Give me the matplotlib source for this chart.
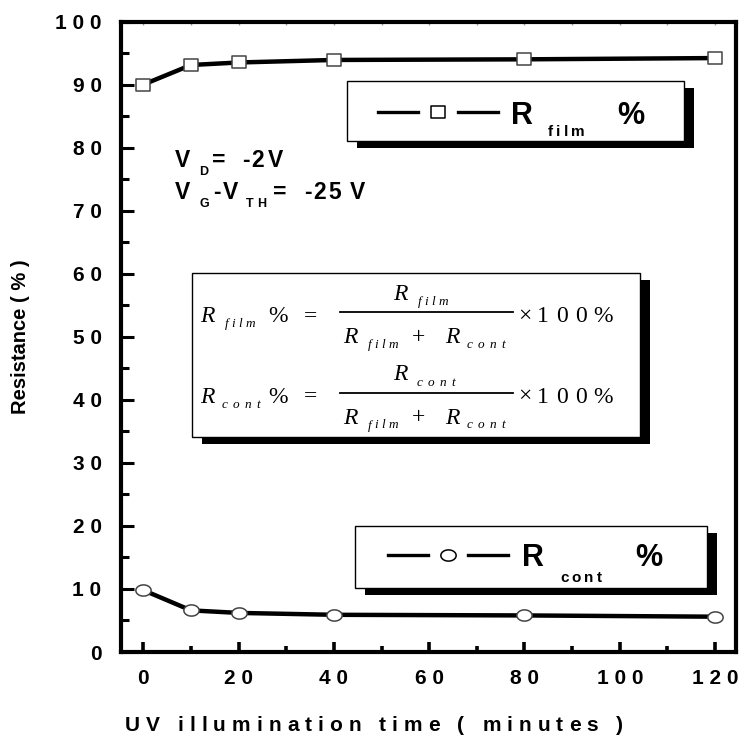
import numpy as np
import matplotlib
matplotlib.use("Agg")
import matplotlib.pyplot as plt
from matplotlib.patches import Rectangle
from matplotlib.lines import Line2D
from matplotlib.path import Path
from matplotlib import font_manager as fm
from matplotlib.ft2font import FT2Font

plt.rcParams["font.family"] = ["Liberation Sans", "DejaVu Sans"]

# ---- data -------------------------------------------------------------
uv_time = [0, 10, 20, 40, 80, 120]
r_film_pct = [90.0, 93.1, 93.5, 93.9, 94.0, 94.2]
r_cont_pct = [9.8, 6.6, 6.2, 5.9, 5.8, 5.6]

x_ticks = [0, 20, 40, 60, 80, 100, 120]
x_tick_labels = ["0", "2 0", "4 0", "6 0", "8 0", "1 0 0", "1 2 0"]
y_ticks = [0, 10, 20, 30, 40, 50, 60, 70, 80, 90, 100]
y_tick_labels = ["0", "1 0", "2 0", "3 0", "4 0", "5 0", "6 0", "7 0", "8 0", "9 0", "1 0 0"]

W, H = 739, 742
fig = plt.figure(figsize=(W / 100, H / 100), dpi=100)


def fx(x):
    return x / W


def fy(y):
    return 1 - y / H


AX_L, AX_R, AX_T, AX_B = 121, 736, 21.5, 652
ax = fig.add_axes([fx(AX_L), fy(AX_B), (AX_R - AX_L) / W, (AX_B - AX_T) / H])

# markers: slightly wide open squares and flat ellipses
sq = Path([(-7, -5.5), (7, -5.5), (7, 5.5), (-7, 5.5), (-7, -5.5)], closed=True)
t = np.linspace(0, 2 * np.pi, 60)
ell = Path(np.column_stack([7.5 * np.cos(t), 5.5 * np.sin(t)]), closed=True)

ax.plot(uv_time, r_film_pct, color="black", lw=3.2, marker=sq, ms=10.5,
        mfc="white", mec="#444444", mew=1.1, zorder=3)
ax.plot(uv_time, r_cont_pct, color="black", lw=3.2, marker=ell, ms=11,
        mfc="white", mec="#444444", mew=1.1, zorder=3)

ax.set_xlim(-4.7, 124.4)
ax.set_ylim(0, 100)
ax.set_xticks(x_ticks)
ax.set_xticklabels(x_tick_labels)
ax.set_xticks(np.arange(10, 120, 20), minor=True)
ax.set_yticks(y_ticks)
ax.set_yticklabels(y_tick_labels)
ax.set_yticks(np.arange(5, 100, 10), minor=True)

for s in ax.spines.values():
    s.set_linewidth(3)
ax.tick_params(axis="x", which="major", direction="in", length=7, width=2.6,
               pad=12, labelsize=15)
ax.tick_params(axis="x", which="minor", direction="in", length=4, width=2.6)
ax.tick_params(axis="y", which="major", direction="in", length=9, width=2.2,
               pad=14, labelsize=15)
ax.tick_params(axis="y", which="minor", direction="in", length=6, width=2.2)
for lab in ax.get_xticklabels() + ax.get_yticklabels():
    lab.set_fontweight("bold")

top = ax.secondary_xaxis("top")
top.set_xticks(np.arange(0, 130, 10))
top.tick_params(direction="in", length=3, width=1, color="0.6", labeltop=False)
top.spines["top"].set_visible(False)

ax.set_ylabel("Resistance ( % )", fontsize=14.5, fontweight="bold")
ax.yaxis.set_label_coords((30 - AX_L) / (AX_R - AX_L), (AX_B - 337) / (AX_B - AX_T))


# text placed glyph by glyph with extra letter spacing (pixel coordinates)
def put(x, y, s, size, track=0.0, family="Liberation Sans", weight="bold",
        style="normal", ha="left", z=8):
    fp = fm.FontProperties(family=family, weight=weight, style=style, size=size)
    font = FT2Font(fm.findfont(fp))
    font.set_size(size, 100)
    adv = [font.load_char(ord(ch)).linearHoriAdvance / 65536 for ch in s]
    total = sum(adv) + track * (len(s) - 1)
    if ha == "center":
        x = x - total / 2
    for ch, a in zip(s, adv):
        if ch != " ":
            fig.text(fx(x), fy(y), ch, fontproperties=fp, ha="left",
                     va="baseline", zorder=z)
        x += a + track


put(374, 731, "UV illumination time ( minutes )", 15, 6.0, ha="center")


def shadow_box(x0, y0, x1, y1, dx=10, dy=7):
    fig.add_artist(Rectangle((fx(x0 + dx), fy(y1 + dy)), (x1 - x0) / W, (y1 - y0) / H,
                             transform=fig.transFigure, facecolor="black",
                             edgecolor="none", zorder=4))
    fig.add_artist(Rectangle((fx(x0), fy(y1)), (x1 - x0) / W, (y1 - y0) / H,
                             transform=fig.transFigure, facecolor="white",
                             edgecolor="black", lw=1, zorder=5))


def legend_entry(xl, yl, marker, ms, sub, xr, xsub, xpct, base, subbase):
    for a, b in [(xl, xl + 40), (xl + 80, xl + 120)]:
        fig.add_artist(Line2D([fx(a), fx(b)], [fy(yl), fy(yl)], color="black", lw=2.4,
                              transform=fig.transFigure, zorder=6))
    fig.add_artist(Line2D([fx(xl + 60)], [fy(yl)], marker=marker, ms=ms, mfc="white",
                          mec="black", mew=1.1, ls="none",
                          transform=fig.transFigure, zorder=6))
    put(xr, base, "R", 22)
    put(xsub, subbase, sub, 11, 3.2)
    put(xpct, base, "%", 22)


shadow_box(347, 81, 684, 141)
legend_entry(378, 112, sq, 10.5, "film", 511, 548, 617, 123.5, 136.5)

shadow_box(355, 526, 707, 588)
legend_entry(388, 555, ell, 11, "cont", 522, 560, 635, 566.5, 581.5)

# bias conditions
put(175, 167, "V", 16.5)
put(199, 175, "D", 9)
put(212, 167, "=", 16.5)
put(242, 167, "-2", 16.5, 2)
put(268, 167, "V", 16.5)

put(175, 199, "V", 16.5)
put(199, 207, "G", 9)
put(213, 199, "-", 16.5)
put(223, 199, "V", 16.5)
put(246, 207, "TH", 9, 3)
put(273, 199, "=", 16.5)
put(304, 199, "-25", 16.5, 2)
put(350, 199, "V", 16.5)

# definition box
shadow_box(192, 273, 640, 437)

SERIF = "Liberation Serif"
FS = 17


def r_sub(x, base, word, track, gap=25, subsize=9.5, drop=5):
    put(x, base, "R", FS, family=SERIF, weight="normal", style="italic")
    put(x + gap, base + drop, word, subsize, track, family=SERIF,
        weight="normal", style="italic")


TRACK = {"film": 3.0, "cont": 5.0}


def definition(dy, word):
    # left-hand side
    r_sub(200, 322 + dy, word, TRACK[word], gap=25 if word == "film" else 22)
    put(268, 322 + dy, "%", FS, family=SERIF, weight="normal")
    put(304, 322 + dy, "=", FS, family=SERIF, weight="normal")
    # fraction
    r_sub(393, 300 + dy, word, TRACK[word], gap=25 if word == "film" else 24)
    fig.add_artist(Line2D([fx(340), fx(513)], [fy(312 + dy), fy(312 + dy)],
                          color="black", lw=1.3, transform=fig.transFigure, zorder=7))
    r_sub(343, 343 + dy, "film", TRACK["film"], gap=25)
    put(412, 343 + dy, "+", FS, family=SERIF, weight="normal")
    r_sub(445, 343 + dy, "cont", TRACK["cont"], gap=22)
    put(518, 322 + dy, "\u00d7", FS, family=SERIF, weight="normal")
    put(537, 322 + dy, "100%", FS, 7.0, family=SERIF, weight="normal")


definition(0, "film")
definition(80.5, "cont")

fig.savefig("out.png", dpi=100)
